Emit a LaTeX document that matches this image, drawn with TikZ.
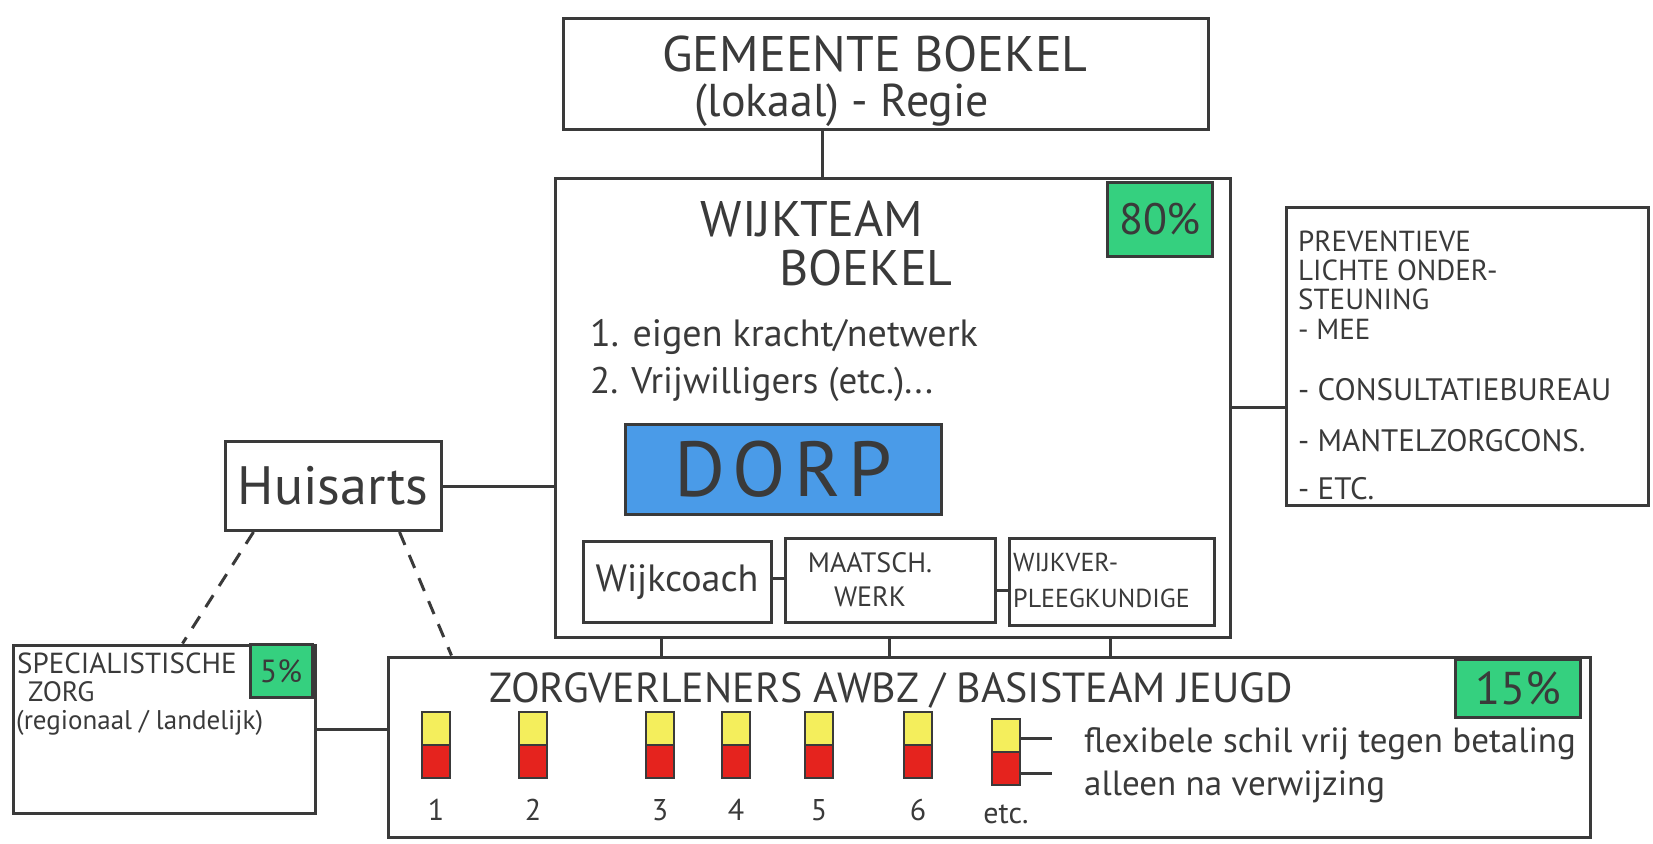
\documentclass[tikz,border=0pt]{standalone}
\usepackage{fontspec}
\setmainfont{PT Sans}
\usetikzlibrary{calc}
\definecolor{ink}{HTML}{3A3A3A}
\definecolor{mint}{HTML}{35D07F}
\definecolor{dorpblue}{HTML}{4A9BE8}
\definecolor{ylw}{HTML}{F4EE5C}
\definecolor{rd}{HTML}{E5231E}
\newcommand\setfs[1]{\fontsize{#1}{#1}\selectfont}
\begin{document}
\begin{tikzpicture}[x=1pt,y=-1pt,
  box/.style={draw=ink, line width=3pt, inner sep=0pt},
  conn/.style={draw=ink, line width=3pt},
  dashconn/.style={conn, dash pattern=on 14pt off 11pt},
  pct/.style={box, fill=mint, text=ink},
  txt/.style={text=ink, inner sep=0pt},
  bar/.style={draw=ink, line width=2.4pt, minimum width=28pt, minimum height=66pt, inner sep=0pt,
    path picture={
      \fill[ylw] (path picture bounding box.north west) rectangle (path picture bounding box.east);
      \fill[rd] (path picture bounding box.west) rectangle (path picture bounding box.south east);
      \draw[ink, line width=2pt] (path picture bounding box.west) -- (path picture bounding box.east);}},
  num/.style={txt, font=\setfs{30}},
  prevline/.style={txt, font=\setfs{29}, anchor=west},
]
\useasboundingbox (0,0) rectangle (1653,843);
\fill[white] (0,0) rectangle (1653,843);

% boxes
\node[box, minimum width=645pt, minimum height=110pt] (gem) at (886,74) {};
\node[box, minimum width=675pt, minimum height=459pt] (wijk) at (893,408) {};
\node[pct, minimum width=105pt, minimum height=74pt, font=\setfs{44}] (p80) at (1160,219) {80\%};
\node[box, fill=dorpblue, minimum width=316pt, minimum height=90pt, text=ink,
      font=\setfs{78}\addfontfeature{LetterSpace=10}] (dorp) at (783,469) {DORP};
\node[box, minimum width=188pt, minimum height=81pt, text=ink, font=\setfs{38}] (wc) at (677,582) {Wijkcoach};
\node[box, minimum width=210pt, minimum height=84pt] (mw) at (890,580) {};
\node[box, minimum width=205pt, minimum height=87pt] (wv) at (1112,582) {};
\node[box, minimum width=362pt, minimum height=298pt] (prev) at (1467,356) {};
\node[box, minimum width=216pt, minimum height=89pt, text=ink, font=\setfs{54}] (hu) at (333,486) {Huisarts};
\node[box, minimum width=302pt, minimum height=168pt] (sp) at (164,729) {};
\node[pct, minimum width=62pt, minimum height=53pt, font=\setfs{32}] (p5) at (281,671) {5\%};
\node[box, minimum width=1202pt, minimum height=180pt] (zorg) at (989,747) {};
\node[pct, minimum width=125pt, minimum height=58pt, font=\setfs{46}] (p15) at (1518,688) {15\%};

% texts
\node[txt, font=\setfs{50}] (gem1) at (875,54) {GEMEENTE BOEKEL};
\node[txt, font=\setfs{46}] (gem2) at (842,105) {(lokaal) - Regie};
\node[txt, font=\setfs{50}] (wt1) at (812,219) {WIJKTEAM};
\node[txt, font=\setfs{50}] (wt2) at (866,268) {BOEKEL};
\node[txt, font=\setfs{38}, anchor=west] (l1) at (590,337) {1. eigen kracht/netwerk};
\node[txt, font=\setfs{37}, anchor=west] (l2) at (590,384) {2. Vrijwilligers (etc.)...};
\node[txt, font=\fontsize{28}{34}\selectfont, align=center] (mwt) at (870,580) {MAATSCH.\\WERK};
\node[txt, font=\fontsize{26}{36}\selectfont, align=left, anchor=west] (wvt) at (1013,580) {WIJKVER-\\PLEEGKUNDIGE};
\node[prevline] (pr1) at (1298,241) {PREVENTIEVE};
\node[prevline] (pr2) at (1298,270) {LICHTE ONDER-};
\node[prevline] (pr3) at (1298,299) {STEUNING};
\node[prevline] (pr4) at (1298,329) {- MEE};
\node[prevline, font=\setfs{31}] (pr5) at (1298,390) {- CONSULTATIEBUREAU};
\node[prevline, font=\setfs{31}] (pr6) at (1298,441) {- MANTELZORGCONS.};
\node[prevline, font=\setfs{31}] (pr7) at (1298,489) {- ETC.};
\node[txt, font=\setfs{29}, anchor=west] (sp1) at (17,663) {SPECIALISTISCHE};
\node[txt, font=\setfs{28}, anchor=west] (sp2) at (28,692) {ZORG};
\node[txt, font=\setfs{27}, anchor=west] (sp3) at (16,723) {(regionaal / landelijk)};
\node[txt, font=\setfs{42}] (zt) at (891,690) {ZORGVERLENERS AWBZ / BASISTEAM JEUGD};

% bars
\node[bar] (b1) at (436,745) {};
\node[bar] (b2) at (533,745) {};
\node[bar] (b3) at (660,745) {};
\node[bar] (b4) at (736,745) {};
\node[bar] (b5) at (819,745) {};
\node[bar] (b6) at (918,745) {};
\node[bar] (b7) at (1006,752) {};
\node[num] (n1) at (436,810) {1};
\node[num] (n2) at (533,810) {2};
\node[num] (n3) at (660,810) {3};
\node[num] (n4) at (736,810) {4};
\node[num] (n5) at (819,810) {5};
\node[num] (n6) at (918,810) {6};
\node[num] (n7) at (1006,814) {etc.};
\node[txt, font=\setfs{35}, anchor=west] (flex) at (1084,744) {flexibele schil vrij tegen betaling};
\node[txt, font=\setfs{35}, anchor=west] (alleen) at (1084,787) {alleen na verwijzing};
\coordinate (lf) at (1052,738);
\coordinate (la) at (1052,773);
\draw[conn] (b7.east |- lf) -- (lf);
\draw[conn] (b7.east |- la) -- (la);

% connectors
\coordinate (cg) at (822,150);
\draw[conn] (gem.south -| cg) -- (wijk.north -| cg);
\draw[conn] (hu.east) -- (wijk.west |- hu.east);
\coordinate (cp) at (1250,407);
\draw[conn] (wijk.east |- cp) -- (prev.west |- cp);
\draw[conn] (sp.east) -- (zorg.west |- sp.east);
\coordinate (c1) at (0,578);
\draw[conn] (wc.east |- c1) -- (mw.west |- c1);
\coordinate (c2) at (0,590);
\draw[conn] (mw.east |- c2) -- (wv.west |- c2);
\coordinate (z1) at (661,0);
\coordinate (z2) at (889,0);
\coordinate (z3) at (1110,0);
\draw[conn] (wijk.south -| z1) -- (zorg.north -| z1);
\draw[conn] (wijk.south -| z2) -- (zorg.north -| z2);
\draw[conn] (wijk.south -| z3) -- (zorg.north -| z3);
\draw[dashconn] ($(hu.south west)+(30,0)$) -- ($(sp.north west)+(171,0)$);
\draw[dashconn] ($(hu.south west)+(176,0)$) -- ($(zorg.north west)+(65,0)$);
\end{tikzpicture}
\end{document}
